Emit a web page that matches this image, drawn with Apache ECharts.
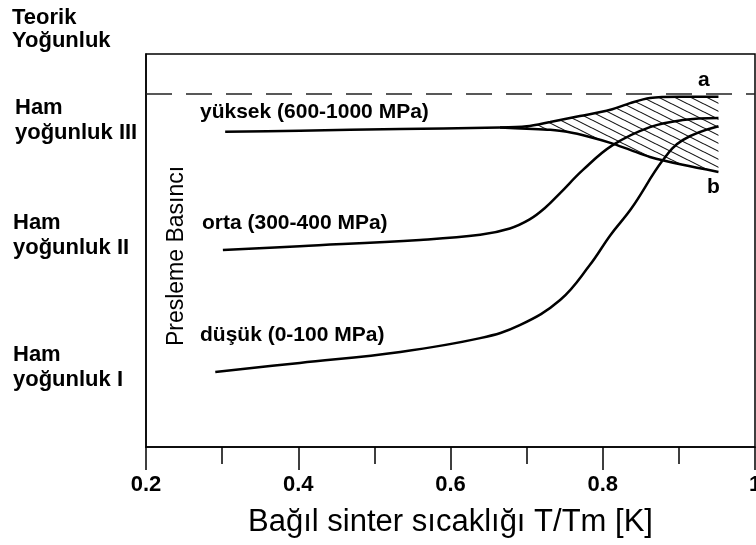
<!DOCTYPE html>
<html><head><meta charset="utf-8">
<script src="https://cdn.jsdelivr.net/npm/echarts@6/dist/echarts.min.js"></script>
<style>html,body{margin:0;padding:0;background:#fff}#c{width:756px;height:545px}</style>
</head><body><div id="c"></div>
<script>
// x = relative sinter temperature T/Tm, y = relative density (arbitrary scale, 90 = theoretical)
const teorik = 90;
const yuksekX = [0.304, 0.402, 0.534, 0.665];
const yuksekY = [80.2, 80.5, 80.9, 81.3];
const upperAX = [0.665, 0.700, 0.731, 0.770, 0.810, 0.836, 0.862, 0.901, 0.952];
const upperAY = [81.3, 81.6, 82.7, 84.2, 85.8, 87.5, 88.8, 89.1, 89.1];
const lowerBX = [0.665, 0.700, 0.731, 0.753, 0.783, 0.810, 0.836, 0.862, 0.905, 0.952];
const lowerBY = [81.3, 81.0, 80.7, 80.2, 78.9, 77.4, 75.6, 73.8, 71.8, 70.0];
const ortaX = [0.301, 0.402, 0.560, 0.639, 0.678, 0.704, 0.724, 0.744, 0.774, 0.813, 0.862, 0.905, 0.952];
const ortaY = [50.1, 51.1, 52.7, 54.0, 55.6, 57.9, 60.8, 64.6, 70.5, 76.8, 81.4, 83.2, 83.7];
const dusukX = [0.291, 0.402, 0.534, 0.639, 0.691, 0.744, 0.783, 0.810, 0.838, 0.879, 0.905, 0.952];
const dusukY = [19.1, 21.4, 24.2, 27.7, 31.0, 37.4, 46.3, 53.9, 60.8, 73.0, 78.1, 81.6];
const xTickLabels = ['0.2', '0.4', '0.6', '0.8', '1'];

function pairs(xs, ys) { return xs.map((x, i) => [x, ys[i]]); }

const pat = document.createElement('canvas');
pat.width = 16; pat.height = 8;
const pc = pat.getContext('2d');
pc.strokeStyle = '#111'; pc.lineWidth = 1.1;
[-8, 0, 8].forEach(o => { pc.beginPath(); pc.moveTo(-2, o - 1); pc.lineTo(18, o + 9); pc.stroke(); });

const FONT = '"Liberation Sans", Arial, sans-serif';
const chart = echarts.init(document.getElementById('c'), null, { renderer: 'canvas' });
const lineStyle = { color: '#000', width: 2.5 };
const txt = (text, x, y, size, weight) => ({ type: 'text', x, y, z: 10,
  style: { text, fill: '#000', font: (weight || 'bold') + ' ' + (size || 22) + 'px ' + FONT, textVerticalAlign: 'middle' } });

const hatchPoly = pairs(upperAX, upperAY).concat(pairs(lowerBX, lowerBY).reverse());

chart.setOption({
  animation: false,
  grid: { left: 146, right: 1, top: 54, bottom: 98, show: true, borderColor: '#000', borderWidth: 1.5,
    containLabel: false, outerBoundsMode: 'none' },
  xAxis: {
    type: 'value', min: 0.2, max: 1, interval: 0.2,
    axisLine: { lineStyle: { color: '#000', width: 1.5 } },
    axisTick: { length: 23, lineStyle: { color: '#000', width: 1.5 } },
    minorTick: { show: true, splitNumber: 2, length: 17, lineStyle: { color: '#000', width: 1.5 } },
    splitLine: { show: false },
    axisLabel: { margin: 27, color: '#000', fontSize: 22, fontWeight: 'bold', fontFamily: FONT,
      formatter: v => xTickLabels[Math.round((v - 0.2) / 0.2)] },
    name: 'Bağıl sinter sıcaklığı T/Tm [K]', nameLocation: 'middle', nameGap: 60,
    nameTextStyle: { fontSize: 31, color: '#000', fontFamily: FONT }
  },
  yAxis: { type: 'value', min: 0, max: 100, axisLine: { show: true, lineStyle: { color: '#000', width: 1.5 } },
    axisTick: { show: false }, axisLabel: { show: false }, splitLine: { show: false } },
  series: [
    { type: 'custom', data: [hatchPoly[0]], z: 1, silent: true,
      renderItem: (params, api) => ({
        type: 'polygon',
        shape: { points: hatchPoly.map(p => api.coord(p)) },
        style: { fill: { image: pat, repeat: 'repeat' }, stroke: null }
      }) },
    { type: 'line', data: pairs(upperAX, upperAY), smooth: 0.3, symbol: 'none', lineStyle, z: 3 },
    { type: 'line', data: pairs(lowerBX, lowerBY), smooth: 0.3, symbol: 'none', lineStyle, z: 3 },
    { type: 'line', data: pairs(yuksekX, yuksekY), smooth: 0.3, symbol: 'none', lineStyle, z: 3,
      markLine: { silent: true, symbol: 'none', label: { show: false },
        lineStyle: { type: [26, 14], color: '#222', width: 1.5 }, data: [{ yAxis: teorik }] } },
    { type: 'line', data: pairs(ortaX, ortaY), smooth: 0.4, symbol: 'none', lineStyle, z: 3 },
    { type: 'line', data: pairs(dusukX, dusukY), smooth: 0.4, symbol: 'none', lineStyle, z: 3 }
  ],
  graphic: [
    txt('Teorik', 12, 17.5), txt('Yoğunluk', 12, 40.5),
    txt('Ham', 15, 107.5), txt('yoğunluk III', 15, 132.5),
    txt('Ham', 13, 222.5), txt('yoğunluk II', 13, 247.5),
    txt('Ham', 13, 354.5), txt('yoğunluk I', 13, 379.5),
    txt('yüksek (600-1000 MPa)', 200, 112.5, 21),
    txt('orta (300-400 MPa)', 202, 223.5, 21),
    txt('düşük (0-100 MPa)', 200, 335, 21),
    txt('a', 698, 80, 21), txt('b', 707, 187.5, 21),
    { type: 'text', x: 176.5, y: 256, rotation: Math.PI / 2, z: 10,
      style: { text: 'Presleme Basıncı', fill: '#000', font: '23px ' + FONT, textAlign: 'center', textVerticalAlign: 'middle' } }
  ]
});
</script></body></html>
